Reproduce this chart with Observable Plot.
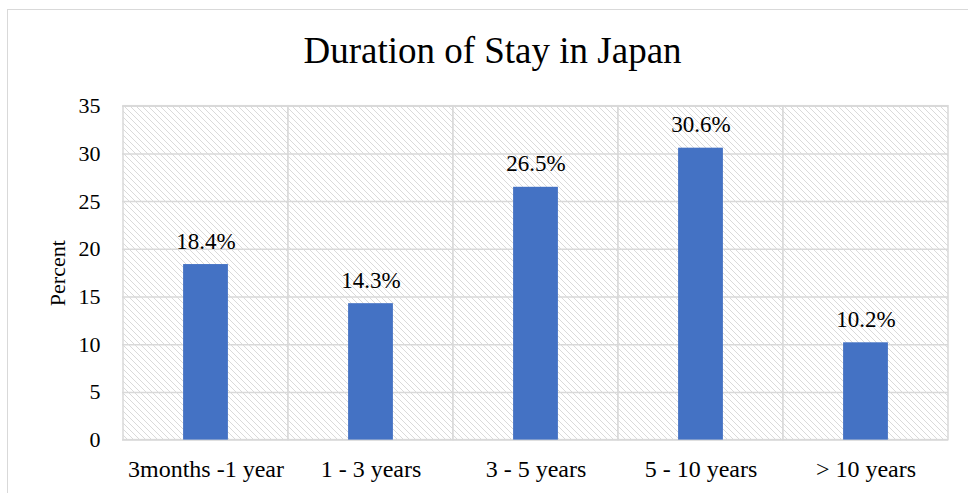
<!DOCTYPE html>
<html>
<head>
<meta charset="utf-8">
<script src="https://cdn.jsdelivr.net/npm/d3@7"></script>
<script src="https://cdn.jsdelivr.net/npm/@observablehq/plot@0.6"></script>
<style>
  html, body { margin: 0; padding: 0; background: #fff; }
  #wrap { position: relative; width: 968px; height: 493px; overflow: hidden; background: #fff; }
  #border { position: absolute; left: 7px; top: 9px; width: 1000px; height: 1000px; border: 1.5px solid #d9d9d9; box-sizing: border-box; }
  #title { position: absolute; left: 0; top: 32px; width: 985px; text-align: center;
           font-family: "Liberation Serif", "Times New Roman", serif; font-size: 37px; line-height: 37px; color: #000; }
  #chart { position: absolute; left: 0; top: 90px; font-family: "Liberation Serif", "Times New Roman", serif; }
  html body #wrap #chart svg text, html body #wrap #chart svg g { font-family: "Liberation Serif", "Times New Roman", serif !important; }
</style>
</head>
<body>
<div id="wrap">
  <div id="border"></div>
  <div id="title">Duration of Stay in Japan</div>
  <div id="chart"></div>
</div>
<script>
const categories = ["3months -1 year", "1 - 3 years", "3 - 5 years", "5 - 10 years", "> 10 years"];
const values = [18.4, 14.3, 26.5, 30.6, 10.2];
const yTicks = [0, 5, 10, 15, 20, 25, 30, 35];
const yMax = 35;

const data = categories.map((c, i) => ({category: c, value: values[i]}));
const fontStack = '"Liberation Serif", "Times New Roman", serif';
const grid = "#d9d9d9";

const svg = Plot.plot({
  width: 968,
  height: 403,
  marginLeft: 122,
  marginRight: 20,
  marginTop: 15.7,
  marginBottom: 53.4,
  style: {color: "#000", background: "transparent", overflow: "visible"},
  x: {domain: categories, padding: 0},
  y: {domain: [0, yMax]},
  marks: [
    Plot.barY(categories, {x: d => d, y1: 0, y2: yMax, fill: "url(#hatch)", stroke: grid, strokeWidth: 1.5}),
    Plot.ruleY(yTicks, {stroke: grid, strokeWidth: 1.5}),
    Plot.barY(data, {x: "category", y: "value", fill: "#4472C4", insetLeft: 60.1, insetRight: 60.1}),
    Plot.text(data, {x: "category", y: "value", text: d => d.value.toFixed(1) + "%", lineAnchor: "bottom", dy: -16, fontSize: 23, fontFamily: "Liberation Serif", fill: "#000"}),
    Plot.axisY({ticks: yTicks, tickSize: 0, tickPadding: 22, fontSize: 22, fontFamily: "Liberation Serif", label: "Percent", labelAnchor: "center", labelOffset: 73, labelArrow: "none", fill: "#000"}),
    Plot.axisX({tickSize: 0, tickPadding: 19.5, fontSize: 24, fontFamily: "Liberation Serif", label: null, fill: "#000"})
  ]
});

// force the serif family on every text element (inline, important)
svg.style.setProperty("font-family", fontStack, "important");
svg.querySelectorAll("g, text, tspan").forEach(el => {
  el.setAttribute("font-family", "Liberation Serif");
  el.style.setProperty("font-family", fontStack, "important");
});

d3.select(svg).insert("defs", ":first-child").html(
  `<pattern id="hatch" patternUnits="userSpaceOnUse" width="6" height="6">
     <rect width="6" height="6" fill="#ffffff"/>
     <path d="M-1,-1 L7,7 M-1,5 L1,7 M5,-1 L7,1" stroke="#d6d6d6" stroke-width="0.9"/>
   </pattern>`
);

document.getElementById("chart").appendChild(svg);
</script>
</body>
</html>
